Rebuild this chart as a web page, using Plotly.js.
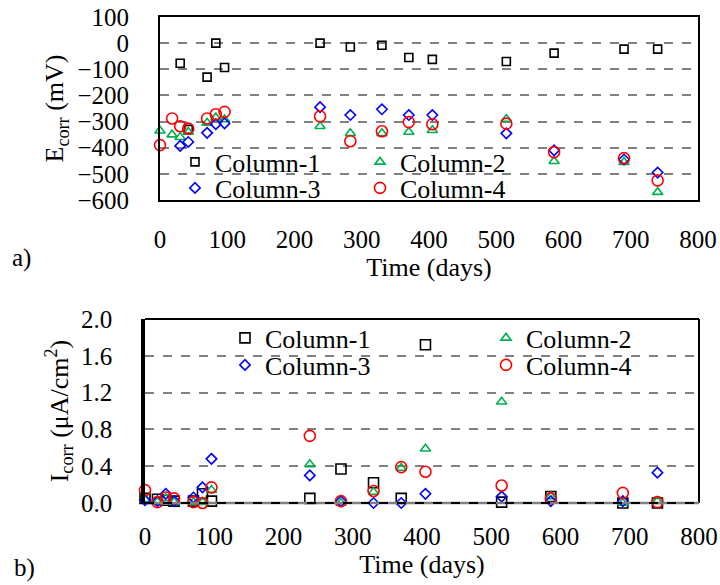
<!DOCTYPE html>
<html>
<head>
<meta charset="utf-8">
<script src="https://cdn.plot.ly/plotly-3.0.1.min.js"></script>
<style>
  #chart svg text, #chart svg tspan { font-family: 'Liberation Serif', 'Times New Roman', serif !important; }
</style>
</head>
<body style="margin:0">
<div id="chart" style="width:720px;height:585px"></div>
<script>
// ---- data ----
const days = [0, 18, 30, 42, 70, 83, 96, 238, 283, 330, 370, 405, 515, 586, 690, 740];

const seriesNames = ["Column-1", "Column-2", "Column-3", "Column-4"];

// a) Ecorr (mV)
const ecorrCol1 = [null, null, -77, -330, -130, 0, -93, 0, -15, -8, -55, -62, -70, -38, -23, -23];
const ecorrCol2 = [-335, -350, -360, -340, -305, -285, -292, -318, -345, -345, -340, -333, -290, -452, -455, -570];
const ecorrCol3 = [null, null, -393, -378, -343, -310, -307, -245, -275, -253, -275, -275, -345, -410, -445, -495];
const ecorrCol4 = [-390, -288, -318, -327, -288, -272, -263, -280, -375, -337, -302, -310, -308, -417, -440, -525];

// b) Icorr (uA/cm2)
const icorrCol1 = [0.05, 0.04, 0.03, 0.02, 0.02, 0.10, 0.02, 0.05, 0.37, 0.22, 0.05, 1.72, 0.01, 0.07, 0.00, 0.00];
const icorrCol2 = [0.04, 0.01, 0.05, 0.01, 0.01, 0.01, 0.14, 0.42, 0.00, 0.12, 0.38, 0.59, 1.10, 0.07, 0.00, 0.02];
const icorrCol3 = [0.03, 0.02, 0.10, 0.02, 0.06, 0.17, 0.48, 0.30, 0.02, 0.00, 0.00, 0.10, 0.07, 0.02, 0.02, 0.33];
const icorrCol4 = [0.14, 0.01, 0.06, 0.05, 0.01, 0.00, 0.17, 0.73, 0.02, 0.13, 0.39, 0.34, 0.19, 0.05, 0.11, 0.01];

const ecorrTicks = [-600, -500, -400, -300, -200, -100, 0, 100];
const icorrTicks = [0.0, 0.4, 0.8, 1.2, 1.6, 2.0];
const timeTicks = [0, 100, 200, 300, 400, 500, 600, 700, 800];

// ---- styles ----
const SERIF = "Liberation Serif";
const colors = ["#000000", "#00B050", "#0000FF", "#FF0000"];
const symbols = ["square-open", "triangle-up-open", "diamond-open", "circle-open"];
const sizesA = [8, 9, 8, 11];
const sizesB = [10, 9, 8, 11];

const ecorr = [ecorrCol1, ecorrCol2, ecorrCol3, ecorrCol4];
const icorr = [icorrCol1, icorrCol2, icorrCol3, icorrCol4];

const legendA = ["legend", "legend2", "legend3", "legend4"];
const legendB = ["legend5", "legend6", "legend7", "legend8"];

const traces = [];
for (let i = 0; i < 4; i++) {
  traces.push({
    type: "scatter", mode: "markers", name: seriesNames[i],
    x: days, y: ecorr[i], xaxis: "x", yaxis: "y",
    legend: legendA[i], cliponaxis: false,
    marker: { symbol: symbols[i], size: sizesA[i], color: colors[i], line: { color: colors[i], width: 1.6 } }
  });
}
for (let i = 0; i < 4; i++) {
  traces.push({
    type: "scatter", mode: "markers", name: seriesNames[i],
    x: days, y: icorr[i], xaxis: "x2", yaxis: "y2",
    legend: legendB[i], cliponaxis: false,
    marker: { symbol: symbols[i], size: sizesB[i], color: colors[i], line: { color: colors[i], width: 1.6 } }
  });
}

const W = 720, H = 585;
const px = v => v / W;
const py = v => 1 - v / H;

const xDomA = [px(160), px(698)], yDomA = [py(200), py(17)];
const xDomB = [px(145), px(699)], yDomB = [py(503), py(319)];

function serif(size) { return { family: SERIF, size: size, color: "#000000" }; }

function legendAt(x, y) {
  return { x: x, y: y, xanchor: "left", yanchor: "middle", xref: "paper", yref: "paper",
           bgcolor: "rgba(0,0,0,0)", borderwidth: 0, font: serif(26),
           itemwidth: 30, tracegroupgap: 0 };
}

const layout = {
  width: W, height: H,
  margin: { l: 0, r: 0, t: 0, b: 0, pad: 0 },
  paper_bgcolor: "#ffffff", plot_bgcolor: "#ffffff",
  showlegend: true,
  font: serif(24),
  xaxis: {
    domain: xDomA, anchor: "y", range: [0, 800], tickvals: timeTicks,
    showline: true, mirror: true, linecolor: "#000", linewidth: 2,
    showgrid: false, zeroline: false, ticks: "", ticklabelstandoff: 16,
    tickfont: serif(25),
    title: { text: "Time (days)", font: serif(26), standoff: 0 }
  },
  yaxis: {
    domain: yDomA, anchor: "x", range: [-600, 100], tickvals: ecorrTicks,
    showline: true, mirror: true, linecolor: "#000", linewidth: 2,
    showgrid: true, gridcolor: "#808080", gridwidth: 1.6, griddash: "dash",
    zeroline: false, ticks: "", ticklabelstandoff: 24,
    tickfont: serif(25),
    title: { text: "E<sub>corr</sub> (mV)", font: serif(26), standoff: 6 }
  },
  xaxis2: {
    domain: xDomB, anchor: "y2", range: [0, 800], tickvals: timeTicks,
    showline: false, showgrid: false, zeroline: false, ticks: "", ticklabelstandoff: 16,
    tickfont: serif(25),
    title: { text: "Time (days)", font: serif(26), standoff: 0 }
  },
  yaxis2: {
    domain: yDomB, anchor: "x2", range: [0, 2.0], tickvals: icorrTicks, tickformat: ".1f",
    showline: true, mirror: false, linecolor: "#000", linewidth: 3.5,
    showgrid: true, gridcolor: "#808080", gridwidth: 1.6, griddash: "dash",
    zeroline: false, ticks: "", ticklabelstandoff: 24,
    tickfont: serif(25),
    title: { text: "I<sub>corr</sub> (μA/cm<sup>2</sup>)", font: serif(26), standoff: 6 }
  },
  shapes: [
    { type: "line", xref: "x2 domain", yref: "y2 domain", x0: 0, x1: 1, y0: 1, y1: 1, line: { color: "#000", width: 2 } },
    { type: "line", xref: "x2 domain", yref: "y2 domain", x0: 1, x1: 1, y0: 0, y1: 1, line: { color: "#000", width: 2 } },
    { type: "line", xref: "x2 domain", yref: "y2 domain", x0: 0, x1: 1, y0: 0, y1: 0, line: { color: "#808080", width: 2.5 } },
    { type: "line", xref: "x2 domain", yref: "y2 domain", x0: 0, x1: 1, y0: 0, y1: 0, line: { color: "#000", width: 2, dash: "dash" } }
  ],
  annotations: [
    { text: "a)", xref: "paper", yref: "paper", x: px(10), y: py(258), xanchor: "left", yanchor: "middle",
      showarrow: false, font: serif(25) },
    { text: "b)", xref: "paper", yref: "paper", x: px(12), y: py(568), xanchor: "left", yanchor: "middle",
      showarrow: false, font: serif(25) }
  ],
  legend:  legendAt(px(175), py(162)),
  legend2: legendAt(px(360), py(162)),
  legend3: legendAt(px(175), py(188)),
  legend4: legendAt(px(360), py(188)),
  legend5: legendAt(px(225), py(338)),
  legend6: legendAt(px(486), py(338)),
  legend7: legendAt(px(225), py(365)),
  legend8: legendAt(px(486), py(365))
};

Plotly.newPlot("chart", traces, layout, { displayModeBar: false });
</script>
</body>
</html>
